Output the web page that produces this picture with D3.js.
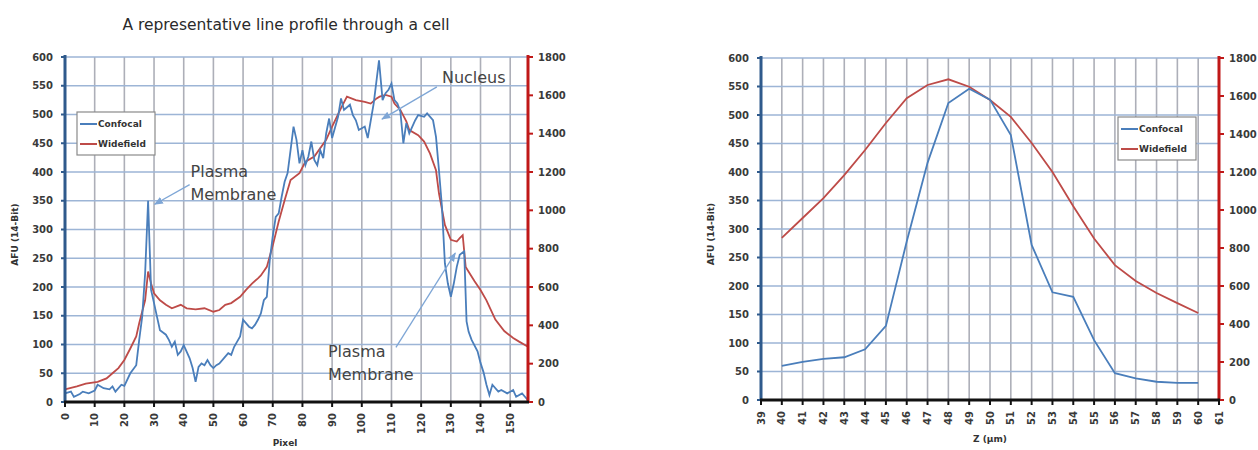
<!DOCTYPE html>
<html>
<head>
<meta charset="utf-8">
<script src="https://cdn.jsdelivr.net/npm/d3@7/dist/d3.min.js"></script>
<style>
  body { margin: 0; background: #fff; }
  svg text { font-family: "DejaVu Sans", sans-serif; }
</style>
</head>
<body>
<script>
// Venstre graf: linjeprofil gennem en celle (x = pixel)
const confocalPixel = [0, 2, 3, 5, 6, 8, 10, 11, 13, 15, 16, 17, 19, 20, 22, 24, 25, 26, 27, 28, 29, 30, 31, 32, 34, 35, 36, 37, 38, 39, 40, 42, 43, 44, 45, 46, 47, 48, 49, 50, 51, 52, 54, 55, 56, 57, 58, 59, 60, 62, 63, 64, 65, 66, 67, 68, 69, 70, 71, 72, 73, 74, 75, 76, 77, 78, 79, 80, 81, 82, 83, 84, 85, 86, 87, 88, 89, 90, 92, 93, 94, 96, 97, 98, 99, 101, 102, 104, 105.8, 107, 108, 109, 110, 111, 112, 113, 114, 115, 116, 118, 119, 121, 122, 124, 125, 126, 127, 128, 129, 130, 131, 132, 133, 134.5, 135.3, 136, 137, 139, 140, 141, 142, 143, 144, 146, 147, 149, 151, 152, 154, 156];
const confocalAFU = [15, 18, 9, 14, 18, 15, 20, 30, 24, 22, 27, 18, 30, 28, 50, 64, 108, 148, 224, 350, 195, 172, 148, 125, 117, 108, 96, 105, 82, 88, 99, 76, 59, 35, 61, 67, 64, 73, 64, 59, 64, 67, 79, 85, 82, 96, 105, 114, 143, 131, 128, 134, 143, 154, 177, 183, 247, 288, 322, 328, 357, 383, 398, 438, 479, 456, 415, 438, 412, 427, 453, 421, 412, 438, 424, 467, 493, 459, 496, 528, 508, 517, 499, 490, 473, 479, 459, 519, 594, 525, 537, 543, 554, 525, 519, 505, 450, 485, 467, 490, 499, 496, 502, 490, 461, 403, 340, 241, 206, 183, 206, 235, 256, 262, 140, 122, 108, 88, 68, 52, 30, 12, 30, 18, 21, 15, 21, 9, 15, 3];
const widefieldPixel = [0, 4, 7, 11, 14, 16, 18, 20, 22, 24, 25, 27, 28, 29, 30, 32, 34, 36, 39, 41, 44, 47, 50, 52, 54, 56, 59, 61, 63, 65, 66, 68, 70, 72, 74, 76, 79, 81, 84, 88, 90, 93, 95, 98, 101, 103, 105, 106, 108, 110, 111, 113, 115, 116, 119, 121, 123, 125, 126, 128, 130, 132, 133, 134, 135, 136, 138, 140, 142, 145, 148, 151, 153, 156];
const widefieldAFU = [66, 81, 96, 105, 123, 150, 177, 219, 279, 342, 411, 531, 681, 618, 567, 531, 507, 489, 507, 489, 483, 489, 471, 480, 507, 516, 549, 585, 618, 645, 660, 705, 816, 942, 1053, 1158, 1194, 1254, 1281, 1368, 1437, 1533, 1593, 1575, 1566, 1557, 1584, 1593, 1602, 1593, 1557, 1524, 1464, 1419, 1392, 1359, 1296, 1209, 1089, 924, 846, 837, 855, 870, 705, 680, 630, 584, 530, 430, 370, 334, 315, 288];

// Hoejre graf: z-profil (x = Z i µm)
const zPosition = [40, 41, 42, 43, 44, 45, 46, 47, 48, 49, 50, 51, 52, 53, 54, 55, 56, 57, 58, 59, 60];
const zConfocal = [60, 67, 72, 75, 89, 130, 278, 416, 521, 546, 527, 465, 272, 189, 181, 105, 47, 38, 32, 30, 30];
const zWidefield = [853, 958, 1063, 1184, 1316, 1458, 1588, 1658, 1688, 1649, 1579, 1490, 1353, 1200, 1020, 850, 710, 626, 563, 510, 458];

// Akser og tekster
const leftTicks = [0, 50, 100, 150, 200, 250, 300, 350, 400, 450, 500, 550, 600];
const rightTicks = [0, 200, 400, 600, 800, 1000, 1200, 1400, 1600, 1800];
const pixelTicks = [0, 10, 20, 30, 40, 50, 60, 70, 80, 90, 100, 110, 120, 130, 140, 150];
const zTicks = d3.range(39, 62);
const serieNavne = ["Confocal", "Widefield"];

const blaa = "#4a7ebb";
const roed = "#be4b48";

const svg = d3.select("body").append("svg").attr("width", 1258).attr("height", 450);

svg.append("defs").append("marker")
  .attr("id", "pil")
  .attr("viewBox", "0 0 10 10")
  .attr("refX", 9).attr("refY", 5)
  .attr("markerWidth", 7).attr("markerHeight", 7)
  .attr("orient", "auto")
  .append("path").attr("d", "M0,1 L10,5 L0,9 z").attr("fill", "#7ea6d6");

function tegnGraf(opt) {
  const g = svg.append("g");
  const x = d3.scaleLinear().domain(opt.xDomain).range([opt.left, opt.right]);
  const yL = d3.scaleLinear().domain([0, 600]).range([opt.bottom, opt.top]);
  const yR = d3.scaleLinear().domain([0, 1800]).range([opt.bottom, opt.top]);

  // gitterlinjer
  g.selectAll(".vgrid").data(opt.xTicks).enter().append("line")
    .attr("x1", d => x(d)).attr("x2", d => x(d))
    .attr("y1", opt.top).attr("y2", opt.bottom)
    .attr("stroke", "#adafb8").attr("stroke-width", 1.6);
  g.selectAll(".hgrid").data(leftTicks).enter().append("line")
    .attr("x1", opt.left).attr("x2", opt.right)
    .attr("y1", d => yL(d)).attr("y2", d => yL(d))
    .attr("stroke", "#9db5d6").attr("stroke-width", 1.6);

  // serier
  const linje = d3.line();
  g.append("path")
    .attr("d", linje(opt.wideX.map((d, i) => [x(d), yR(opt.wideY[i])])))
    .attr("fill", "none").attr("stroke", roed).attr("stroke-width", 1.8);
  g.append("path")
    .attr("d", linje(opt.confX.map((d, i) => [x(d), yL(opt.confY[i])])))
    .attr("fill", "none").attr("stroke", blaa).attr("stroke-width", 1.8);

  // venstre akse
  g.append("line").attr("x1", opt.left).attr("x2", opt.left)
    .attr("y1", opt.top - 2).attr("y2", opt.bottom)
    .attr("stroke", "#2f5a8c").attr("stroke-width", 3);
  g.selectAll(".ltick").data(leftTicks).enter().append("line")
    .attr("x1", opt.left - 4).attr("x2", opt.left)
    .attr("y1", d => yL(d)).attr("y2", d => yL(d))
    .attr("stroke", "#2f5a8c").attr("stroke-width", 2);
  g.selectAll(".llab").data(leftTicks).enter().append("text")
    .attr("x", opt.left - 12).attr("y", d => yL(d)).attr("dy", "0.35em")
    .attr("text-anchor", "end").attr("font-size", 10).attr("font-weight", "bold")
    .attr("fill", "#3a3a3a").text(d => d);

  // hoejre akse
  g.append("line").attr("x1", opt.right).attr("x2", opt.right)
    .attr("y1", opt.top - 2).attr("y2", opt.bottom)
    .attr("stroke", "#c01818").attr("stroke-width", 3);
  g.selectAll(".rtick").data(rightTicks).enter().append("line")
    .attr("x1", opt.right).attr("x2", opt.right + 5)
    .attr("y1", d => yR(d)).attr("y2", d => yR(d))
    .attr("stroke", "#c01818").attr("stroke-width", 2);
  g.selectAll(".rlab").data(rightTicks).enter().append("text")
    .attr("x", opt.right + 10).attr("y", d => yR(d)).attr("dy", "0.35em")
    .attr("font-size", 10).attr("font-weight", "bold")
    .attr("fill", "#3a3a3a").text(d => d);

  // x-akse
  g.append("line").attr("x1", opt.left - 1).attr("x2", opt.right + 1)
    .attr("y1", opt.bottom).attr("y2", opt.bottom)
    .attr("stroke", "#111").attr("stroke-width", 3);
  g.selectAll(".xtick").data(opt.xTicks).enter().append("line")
    .attr("x1", d => x(d)).attr("x2", d => x(d))
    .attr("y1", opt.bottom).attr("y2", opt.bottom + 5)
    .attr("stroke", "#111").attr("stroke-width", 2);
  g.selectAll(".xlab").data(opt.xTicks).enter().append("text")
    .attr("transform", d => `translate(${x(d)},${opt.bottom + 11}) rotate(-90)`)
    .attr("dy", "0.35em").attr("text-anchor", "end")
    .attr("font-size", 10).attr("font-weight", "bold")
    .attr("fill", "#3a3a3a").text(d => d);

  // aksetitler
  g.append("text")
    .attr("transform", `translate(${opt.left - 47},${(opt.top + opt.bottom) / 2 + 5}) rotate(-90)`)
    .attr("text-anchor", "middle").attr("font-size", 9).attr("font-weight", "bold")
    .attr("fill", "#333").text("AFU (14-Bit)");
  g.append("text")
    .attr("x", opt.xTitleX).attr("y", opt.xTitleY)
    .attr("text-anchor", "middle").attr("font-size", 9).attr("font-weight", "bold")
    .attr("fill", "#333").text(opt.xTitle);

  // forklaring
  const lg = g.append("g").attr("transform", `translate(${opt.legendX},${opt.legendY})`);
  lg.append("rect").attr("width", 78).attr("height", 43)
    .attr("fill", "#fff").attr("stroke", "#8a8a8a").attr("stroke-width", 1.2);
  lg.selectAll(".lgl").data(serieNavne).enter().append("line")
    .attr("x1", 3).attr("x2", 20)
    .attr("y1", (d, i) => 12 + i * 20).attr("y2", (d, i) => 12 + i * 20)
    .attr("stroke", (d, i) => i === 0 ? blaa : roed).attr("stroke-width", 2);
  lg.selectAll(".lgt").data(serieNavne).enter().append("text")
    .attr("x", 21).attr("y", (d, i) => 12 + i * 20).attr("dy", "0.35em")
    .attr("font-size", 9).attr("font-weight", "bold").attr("fill", "#333").text(d => d);

  return { x: x, y: yL, g: g };
}

const venstre = tegnGraf({
  left: 65, right: 528, top: 57, bottom: 402,
  xDomain: [0, 156], xTicks: pixelTicks,
  confX: confocalPixel, confY: confocalAFU,
  wideX: widefieldPixel, wideY: widefieldAFU,
  xTitle: "Pixel", xTitleX: 285, xTitleY: 446,
  legendX: 77, legendY: 112
});

tegnGraf({
  left: 761, right: 1219, top: 58, bottom: 400,
  xDomain: [39, 61], xTicks: zTicks,
  confX: zPosition, confY: zConfocal,
  wideX: zPosition, wideY: zWidefield,
  xTitle: "Z (µm)", xTitleX: 990, xTitleY: 442,
  legendX: 1118, legendY: 117
});

// titel
svg.append("text")
  .attr("x", 286).attr("y", 30).attr("text-anchor", "middle")
  .attr("font-family", "Lato, sans-serif").attr("font-size", 15.5).attr("fill", "#2a2a2a")
  .text("A representative line profile through a cell");

// annotationer i venstre graf
const vx = venstre.x, vy = venstre.y;
const noter = [
  { linjer: ["Plasma", "Membrane"], tx: 42.3, ty: [391, 351], fra: [42, 378], til: [30.2, 344] },
  { linjer: ["Nucleus"], tx: 127, ty: [555], fra: [125.3, 548], til: [106.8, 492] },
  { linjer: ["Plasma", "Membrane"], tx: 88.6, ty: [78, 38], fra: [111.5, 95], til: [131.5, 259] }
];
noter.forEach(n => {
  venstre.g.append("line")
    .attr("x1", vx(n.fra[0])).attr("y1", vy(n.fra[1]))
    .attr("x2", vx(n.til[0])).attr("y2", vy(n.til[1]))
    .attr("stroke", "#7ea6d6").attr("stroke-width", 1.3)
    .attr("marker-end", "url(#pil)");
  n.linjer.forEach((t, i) => {
    venstre.g.append("text")
      .attr("x", vx(n.tx)).attr("y", vy(n.ty[i]))
      .attr("font-family", "Open Sans").attr("font-size", 16).attr("fill", "#444")
      .text(t);
  });
});
</script>
</body>
</html>
